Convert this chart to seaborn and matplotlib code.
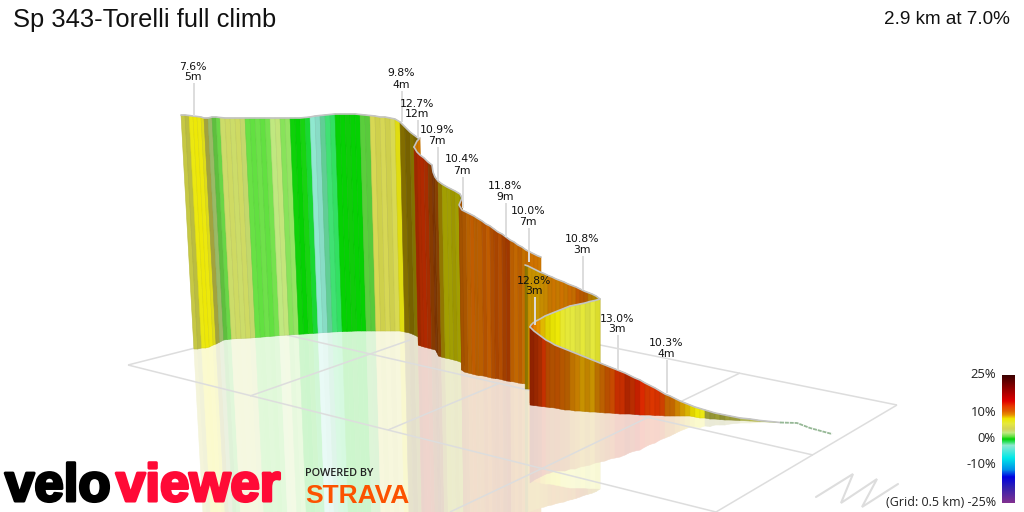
import numpy as np
import matplotlib
matplotlib.use("Agg")
import matplotlib.pyplot as plt
import matplotlib.patheffects as pe
from matplotlib.collections import PolyCollection
import seaborn as sns
from matplotlib.colors import LinearSegmentedColormap

TITLE = "Sp 343-Torelli full climb"
SUMMARY = "2.9 km at 7.0%"

# Gradient colour scale, percent to colour
scale_grades = [-25, -19, -15, -12, -7.5, -2.5, -1.2, 0, 1, 2.5, 4, 6, 8, 9.5, 11, 13, 15, 20, 25]
scale_colors = ["#803090", "#3020b0", "#0000e0", "#0090e8", "#00e8e8", "#90e8d0", "#30e060",
                "#00d000", "#60e040", "#c0e880", "#d4d458", "#e4e840", "#eee800", "#e89000",
                "#e06000", "#e83800", "#e00000", "#900000", "#3c0000"]
scale_ticks = [25, 10, 0, -10]

# Long wall at the top of the climb
a_x = [181, 185, 189, 193, 197, 201, 204, 208, 212, 216, 220, 225, 230, 235, 240, 245, 250, 255, 260, 265,
       270, 275, 280, 285, 290, 295, 300, 305, 310, 315, 320, 325, 330, 335, 340, 345, 350, 355, 360, 365,
       370, 375, 380, 385, 390, 395, 400, 405, 410, 414, 418]
a_top = [115, 115, 115.5, 116, 116.5, 117, 118, 118, 117, 117, 117.5, 118, 118, 118, 118, 118, 118, 118, 118, 118,
         118, 118, 118, 118, 118, 118, 118, 117.5, 117, 116, 115.5, 115, 114.5, 114, 114, 114, 114, 114, 114.5, 115,
         115.5, 116, 117, 117, 118, 119, 122, 127, 132, 135, 138]
a_base = [349, 349, 348, 348, 347, 345, 344, 342, 340, 339.5, 339, 338.7, 338.4, 338.2, 338, 337.6, 337.2, 336.8, 336.4, 336,
          335.6, 335.2, 335, 334.6, 334.3, 334, 333.7, 333.4, 333, 332.7, 332.4, 332, 331.8, 331.6, 331.4, 331.2, 331, 331, 331, 331,
          331, 331, 331, 331, 331, 331, 332, 333, 335, 337, 339]
a_grade = [5, 5, 7.5, 7.8, 7.6, 7.2, 4.5, 2.5, 1.2, 1.2, 3.4, 3.6, 3.4, 3.6, 3.2, 1.1, 1.0, 1.2, 1.0, 1.3,
           2.5, 2.7, 1.6, 1.8, 0.1, 0.0, 0.2, -0.6, -2.5, -2.5, -2.0, -1.4, -1.2, 0.0, 0.0, 0.1, 0.0, 0.0, 1.0, 1.0,
           4.3, 4.6, 4.2, 4.5, 4.4, 7.5, 8.5, 8.6, 8.4, 8.6, 8.6]
a_light = [.9, .85, 1, 1, 1, .95, .75, .8, .85, .95, 1, 1, 1, 1, .97, 1, 1, 1, 1, 1,
           1, 1, 1, 1, 1, 1, 1, 1, 1, .95, .9, 1, 1, 1, 1, .97, 1, 1, .92, .9,
           1, .95, 1, .95, 1, .95, .55, .5, .55, .5, .5]

# Short fold behind the second wall
b_x = [420, 417, 414]
b_top = [138, 141, 147]
b_base = [346, 346, 345]
b_grade = [9.8, 9.8, 9.8]
b_light = [.9, .9, .9]

# Second wall with its two small kinks
c_x = [414, 417, 420, 424, 428, 432, 433, 435, 438, 442, 447, 451, 455, 460, 462, 459, 462, 466, 470, 474, 477,
       482, 486, 490, 494, 498, 502, 506, 510, 514, 518, 522, 526, 530, 534, 538, 541]
c_top = [147, 152, 155, 158, 162, 165, 172, 177, 181, 184, 187, 189, 191, 194, 198, 205, 210, 212, 214, 216, 218,
         221, 224, 226, 229, 232, 234, 237, 240, 242, 245, 247, 250, 252, 254, 256, 257]
c_base = [345, 346, 347, 348, 349, 350, 352, 356, 357, 358, 359, 360, 361, 363, 365, 370, 372, 373, 374, 375, 375.5,
          376, 377, 378, 378.5, 379, 380, 381, 381.5, 382, 383, 383.5, 384, 385, 386, 387, 388]
c_grade = [12.7, 12.9, 13, 12.6, 11, 11.5, 11, 10.6, 8.6, 8, 7.9, 8.1, 8, 7.9, 10.4, 10.4, 10.4, 10.2, 10.6, 10.3, 10.4,
           10.8, 10.6, 10.9, 11.2, 11, 11.4, 11.8, 10.4, 10.2, 10.4, 9.9, 10, 10, 10, 9.8, 9.8]
c_light = [.68, .74, .76, .72, .6, .56, .55, .6, .62, .68, .68, .66, .68, .6, .72, .72, .75, .8, .85, .8, .82,
           .8, .85, .78, .75, .8, .72, .7, .82, .85, .82, .85, .85, .9, .9, .9, .9]

# Third wall running back to the right
d_x = [525, 528, 532, 536, 540, 544, 548, 552, 556, 560, 564, 568, 572, 576, 580, 584, 588, 592, 596, 600]
d_top = [265, 266, 268, 270, 272, 273.5, 275.5, 277, 279, 280.5, 282, 284, 285.5, 287, 289, 291, 292.5, 294, 296, 299]
d_base = [389, 389, 389.3, 389.6, 390, 390.3, 390.6, 391, 391.3, 391.6, 392, 392.2, 392.5, 392.7, 393, 393.2, 393.4, 393.6, 393.8, 394]
d_grade = [8.5, 9.0, 9.0, 8.9, 9.1, 9.2, 9.6, 9.8, 9.5, 10.0, 9.7, 10.2, 10.0, 10.8, 10.6, 10.4, 9.3, 9.0, 8.6, 8.4]
d_light = [.6, .85, .85, .85, .85, .85, .85, .88, .85, .9, .85, .88, .85, .85, .8, .78, .78, .75, .72, .72]

# Bright wall facing the viewer after the hairpin
e_x = [600, 595, 590, 585, 580, 575, 570, 565, 560, 555, 550, 545, 540, 536, 533, 531, 530]
e_top = [299, 300.5, 301.5, 303, 304, 305, 306, 308, 310, 312, 314, 316, 319, 321, 323, 325, 327]
e_base = [394, 394.5, 395, 395.5, 396, 396.5, 397, 397.5, 398, 398.5, 399, 400, 401, 401.5, 402, 402.5, 403]
e_grade = [6.5, 6.1, 5.9, 6.2, 5.8, 6.0, 6.2, 6.5, 7.8, 7.9, 8.2, 8.6, 9.4, 9.8, 10.8, 12, 12.8]
e_light = [.95, 1, .95, 1, .97, 1, 1, 1, 1, .97, .95, .95, 1, 1, 1, 1, 1]

# Final wall dropping away to the start of the climb
f_x = [530, 534, 538, 542, 546, 550, 555, 560, 565, 570, 575, 580, 585, 590, 595, 600, 605, 610, 615, 620,
       625, 630, 635, 640, 645, 650, 655, 660, 665, 670, 675, 680, 685, 690, 695, 700, 705, 710, 715, 720,
       725, 730, 740, 750, 760, 770, 780]
f_top = [327, 331, 334, 337, 340, 342, 345, 347, 349, 351, 353, 355, 357, 359, 361, 363, 365, 367, 369, 371,
         373, 375.5, 378, 380, 383, 385.5, 388, 391, 394, 396, 398.5, 401, 403, 405, 407, 408.5, 410, 411.5, 413, 414,
         415, 416, 418, 419, 420.5, 421.5, 422.5]
f_base = [405, 405.5, 406, 406.5, 407, 407.5, 408, 409, 410, 410, 411, 411, 411.5, 412, 412, 412.5, 413, 413, 413.5, 414,
          414, 414, 414.5, 415, 415, 415, 415.5, 415.5, 416, 416, 416, 416, 416, 416, 417, 418, 418, 419, 419, 419.5,
          420, 420, 420.5, 421, 421.5, 422, 422.5]
f_grade = [13.0, 12.8, 12.6, 12.9, 11.3, 10.8, 11.0, 10.6, 10.3, 9.6, 9.4, 9.0, 9.2, 9.0, 9.6, 10.3, 11.0, 11.6, 13.0, 13.0,
           13.2, 12.9, 13.6, 13.4, 12.6, 12.9, 13.0, 12.2, 10.3, 10.2, 9.4, 9.0, 8.6, 8.2, 7.8, 7.4, 5.0, 4.6, 5.2, 4.8,
           4.6, 4.4, 3.8, 4.0, 3.6, 3.0, 2.6]
f_light = [.62, .66, .72, .85, .8, .78, .8, .8, .78, .82, .85, .85, .82, .85, .8, .82, .82, .88, .85, .85,
           .75, .8, .85, .95, .9, .95, .92, .9, .85, .85, .88, .9, .92, .95, 1, 1, .7, .68, .7, .65,
           .72, .72, .85, .9, .9, .95, .95]

# Climb tail, flat enough to be a line
tail_x = [780, 797, 810, 832]
tail_y = [422.5, 423, 428, 434]

walls = [
    (a_x, a_top, a_base, a_grade, a_light),
    (b_x, b_top, b_base, b_grade, b_light),
    (c_x, c_top, c_base, c_grade, c_light),
    (d_x, d_top, d_base, d_grade, d_light),
    (e_x, e_top, e_base, e_grade, e_light),
    (f_x, f_top, f_base, f_grade, f_light),
]

# Peak annotations: grade, length, text centre, stem end
peak_grades = ["7.6%", "9.8%", "12.7%", "10.9%", "10.4%", "11.8%", "10.0%", "10.8%", "12.8%", "13.0%", "10.3%"]
peak_lengths = ["5m", "4m", "12m", "7m", "7m", "9m", "7m", "3m", "3m", "3m", "4m"]
peak_x = [193, 401, 417, 437, 462, 505, 528, 582, 534, 617, 666]
peak_y1 = [67, 73, 104, 130, 159, 186, 211, 239, 281, 319, 343]
peak_y2 = [77, 85, 114, 141, 171, 197, 222, 250, 291, 329, 354]
stem_end = [116, 122, 138, 180, 208, 237, 262, 290, 325, 370, 393]

# Ground grid and north marker, as polylines
grid_lines = [
    ([128, 716], [365, 512]),
    ([128, 195], [365, 348]),
    ([600, 897], [345, 405]),
    ([897, 716], [405, 512]),
    ([740, 543], [373, 468]),
    ([543, 450], [468, 512]),
    ([287, 813], [335, 455]),
    ([250, 410], [396, 340]),
    ([388, 500], [430, 383]),
]
north_x = [816, 853, 841, 877, 862, 898]
north_y = [497, 474, 503, 479, 507, 484]

sns.set_theme(style="white")
plt.rcParams["font.family"] = ["DejaVu Sans"]
stops = [((g + 25) / 50, c) for g, c in zip(scale_grades, scale_colors)]
grade_cmap = LinearSegmentedColormap.from_list("grade", stops, N=512)

fig = plt.figure(figsize=(10.24, 5.12), dpi=100, facecolor="white")
ax = fig.add_axes([0, 0, 1, 1])
ax.set_xlim(0, 1024)
ax.set_ylim(512, 0)
ax.axis("off")


def grade_rgb(grade):
    return np.array(grade_cmap((grade + 25) / 50))[:3]


def foot_x(x):
    # Vertical edges lean slightly as they approach the ground
    return x + max(0.0, (530 - x) * 0.037)


def draw_wall(xs, tops, bases, grades, lights):
    quads, colors, ghost_quads, ghost_colors = [], [], [], []
    for i in range(len(xs) - 1):
        x0, x1 = xs[i], xs[i + 1]
        f0, f1 = foot_x(x0), foot_x(x1)
        lit = grade_rgb(grades[i]) * lights[i]
        quads.append([(x0, tops[i]), (x1, tops[i + 1]), (f1, bases[i + 1]), (f0, bases[i])])
        colors.append(lit)
        # Ground reflection: the wall mirrored about its foot and washed out
        ghost_quads.append([(f0, bases[i]), (f1, bases[i + 1]),
                            (2 * f1 - x1, 2 * bases[i + 1] - tops[i + 1]),
                            (2 * f0 - x0, 2 * bases[i] - tops[i])])
        ghost_colors.append(0.2 * lit + 0.8)
    return quads, colors, ghost_quads, ghost_colors


built = [draw_wall(*w) for w in walls]

# Reflections sit under the grid, walls above it
for _, _, gq, gc in built:
    ax.add_collection(PolyCollection(gq, facecolors=gc, edgecolors=gc, linewidths=0.4, zorder=1))

for gx, gy in grid_lines:
    ax.plot(gx, gy, color="#dddddd", lw=1.1, zorder=2, solid_capstyle="butt")
ax.plot(north_x, north_y, color="#dddddd", lw=1.5, zorder=2, solid_joinstyle="miter")

for (xs, tops, *_), (q, c, _, _) in zip(walls, built):
    # A slightly darker edge keeps the stripes readable
    edges = [col * 0.93 for col in c]
    ax.add_collection(PolyCollection(q, facecolors=c, edgecolors=edges, linewidths=0.4, zorder=3))
    sns.lineplot(x=xs, y=tops, sort=False, estimator=None, color="#c4c4c4", lw=1.2, ax=ax, zorder=3.5)

sns.lineplot(x=tail_x, y=tail_y, sort=False, estimator=None, color="#96b896", lw=1.3,
             linestyle=(0, (2.2, 0.5)), ax=ax, zorder=3.5)

# Peak labels and their stems
for g, l, x, y1, y2, end in zip(peak_grades, peak_lengths, peak_x, peak_y1, peak_y2, stem_end):
    ax.plot([x + 0.5, x + 0.5], [y2 + 6, end], color="#dddddd", lw=1.4, zorder=4, solid_capstyle="butt")
    ax.text(x, y1, g, ha="center", va="center", fontsize=7.8, color="#111111", zorder=5)
    ax.text(x, y2, l, ha="center", va="center", fontsize=7.8, color="#111111", zorder=5)

ax.text(13, 20, TITLE, ha="left", va="center", fontsize=18.4, family="Liberation Sans", color="#111111", zorder=6)
ax.text(1010, 19, SUMMARY, ha="right", va="center", fontsize=13.6, family="Liberation Sans", color="#111111", zorder=6)

# Scale labels next to the colour bar
for t, y in zip(scale_ticks, [375, 413, 438, 464]):
    ax.text(996, y, f"{t}%", ha="right", va="center", fontsize=9.4, family="Open Sans", color="#222222", zorder=6)
ax.text(996, 502, "(Grid: 0.5 km) -25%", ha="right", va="center", fontsize=9.0, family="Open Sans",
        color="#222222", zorder=6)

# Wordmarks
fat = [pe.withStroke(linewidth=2.2, foreground="black")]
ax.text(5, 501, "velo", ha="left", va="baseline", fontsize=38, weight="bold", family="Liberation Sans",
        color="black", path_effects=fat, zorder=7)
fat_red = [pe.withStroke(linewidth=2.2, foreground="#ff0a36")]
ax.text(116, 501, "viewer", ha="left", va="baseline", fontsize=38, weight="bold", family="Liberation Sans",
        color="#ff0a36", path_effects=fat_red, zorder=7)
ax.text(305, 474, "POWERED BY", ha="left", va="center", fontsize=7.8, family="Open Sans", weight="semibold",
        color="#222222", zorder=7)
ax.text(305, 503, "STRAVA", ha="left", va="baseline", fontsize=19, weight="bold", family="Liberation Sans",
        color="#fc5200", zorder=7)

# Colour bar
bar = fig.add_axes([1002 / 1024, 1 - 503 / 512, 13 / 1024, 128 / 512])
bar_values = np.linspace(25, -25, 128).reshape(-1, 1)
sns.heatmap(bar_values, cmap=grade_cmap, vmin=-25, vmax=25, cbar=False, xticklabels=False, yticklabels=False, ax=bar)

fig.savefig("out.png", dpi=100, facecolor="white")
